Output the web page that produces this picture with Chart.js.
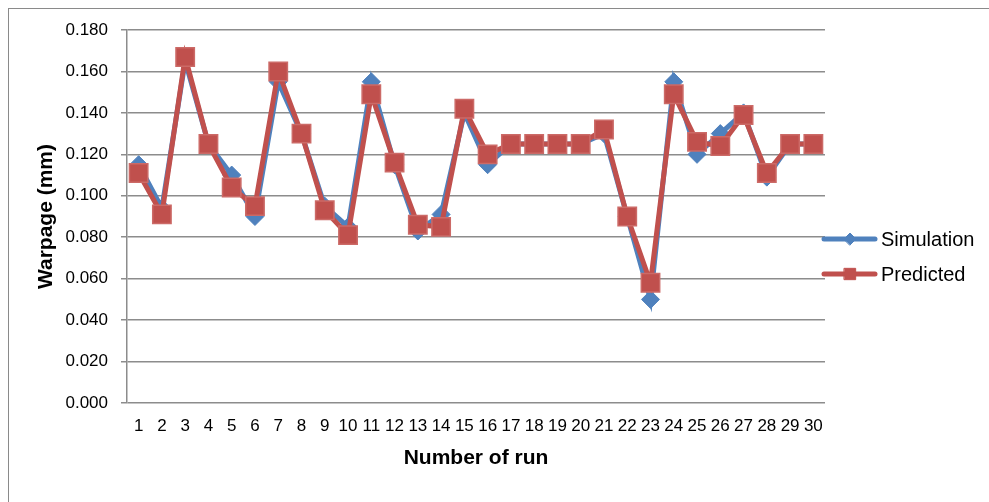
<!DOCTYPE html>
<html>
<head>
<meta charset="utf-8">
<script src="https://cdn.jsdelivr.net/npm/chart.js@4"></script>
<style>
  html, body { margin: 0; padding: 0; background: #fff; }
  #wrap { position: relative; width: 989px; height: 502px; }
</style>
</head>
<body>
<div id="wrap"><canvas id="warpChart" width="989" height="502"></canvas></div>
<script>
const runs = ['1','2','3','4','5','6','7','8','9','10','11','12','13','14','15','16','17','18','19','20','21','22','23','24','25','26','27','28','29','30'];
const simulation = [0.115, 0.094, 0.165, 0.125, 0.110, 0.090, 0.155, 0.130, 0.095, 0.085,
                    0.155, 0.115, 0.083, 0.091, 0.140, 0.115, 0.125, 0.125, 0.125, 0.125,
                    0.130, 0.090, 0.050, 0.155, 0.120, 0.130, 0.140, 0.109, 0.125, 0.125];
const predicted = [0.111, 0.091, 0.167, 0.125, 0.104, 0.095, 0.160, 0.130, 0.093, 0.081,
                   0.149, 0.116, 0.086, 0.085, 0.142, 0.120, 0.125, 0.125, 0.125, 0.125,
                   0.132, 0.090, 0.058, 0.149, 0.126, 0.124, 0.139, 0.111, 0.125, 0.125];
const yTicks = [0, 0.02, 0.04, 0.06, 0.08, 0.1, 0.12, 0.14, 0.16, 0.18];

const BLUE = '#4F81BD';
const RED = '#C0504D';
const GRID = '#8c8c8c';
const TXT = '#000';
const FONT = '"Liberation Sans", Arial, sans-serif';

// frame around the chart + the line/marker legend on the right
const extras = {
    id: 'extras',
    beforeDraw(chart) {
        const ctx = chart.ctx;
        ctx.save();
        ctx.strokeStyle = '#8a8a8a';
        ctx.lineWidth = 1;
        ctx.strokeRect(8.5, 8.5, 1100, 600);
        ctx.restore();
    },
    afterDraw(chart) {
        const ctx = chart.ctx;
        const rows = [239, 274];
        const sizes = [6, 8];
        chart.data.datasets.forEach((ds, i) => {
            const y = rows[i];
            ctx.save();
            ctx.strokeStyle = ds.borderColor;
            ctx.lineWidth = ds.borderWidth;
            ctx.lineCap = 'round';
            ctx.beginPath();
            ctx.moveTo(824, y);
            ctx.lineTo(875, y);
            ctx.stroke();
            ctx.fillStyle = ds.pointBackgroundColor;
            ctx.strokeStyle = ds.pointBackgroundColor;
            ctx.lineWidth = 1;
            Chart.helpers.drawPoint(ctx, { pointStyle: ds.pointStyle, radius: sizes[i], borderWidth: 1 }, 850, y);
            ctx.fillStyle = TXT;
            ctx.font = '20px ' + FONT;
            ctx.textBaseline = 'middle';
            ctx.fillText(ds.label, 881, y + 1);
            ctx.restore();
        });
    }
};

new Chart(document.getElementById('warpChart').getContext('2d'), {
    type: 'line',
    data: {
        labels: runs,
        datasets: [{
            label: 'Simulation',
            data: simulation,
            order: 2,
            borderColor: BLUE,
            borderWidth: 5,
            pointStyle: 'rectRot',
            pointRadius: 9,
            pointBackgroundColor: BLUE,
            pointBorderColor: BLUE,
            pointBorderWidth: 1,
            tension: 0
        }, {
            label: 'Predicted',
            data: predicted,
            order: 1,
            borderColor: RED,
            borderWidth: 5,
            pointStyle: 'rect',
            pointRadius: 13,
            pointBackgroundColor: RED,
            pointBorderColor: '#cc6a67',
            pointBorderWidth: 1.5,
            tension: 0
        }]
    },
    options: {
        responsive: false,
        animation: false,
        layout: { padding: { left: 30, top: 30, right: 164, bottom: 27 } },
        plugins: { legend: { display: false }, tooltip: { enabled: false } },
        scales: {
            x: {
                offset: true,
                grid: { display: false },
                border: { display: false },
                ticks: { color: TXT, font: { family: FONT, size: 17 }, maxRotation: 0, autoSkip: false, padding: 5 },
                title: { display: true, text: 'Number of run', color: TXT, font: { family: FONT, size: 21, weight: 'bold' } },
                afterFit: s => { s.height = 72; }
            },
            y: {
                min: 0,
                max: 0.18,
                afterBuildTicks: s => { s.ticks = yTicks.map(v => ({ value: v })); },
                grid: { color: GRID, lineWidth: 1.5, tickLength: 6 },
                border: { display: true, color: GRID, width: 1.5 },
                ticks: { color: TXT, font: { family: FONT, size: 17 }, padding: 13, callback: v => v.toFixed(3) },
                title: { display: true, text: 'Warpage (mm)', color: TXT, font: { family: FONT, size: 21, weight: 'bold' } },
                afterFit: s => { s.width = 97; }
            }
        }
    },
    plugins: [extras]
});
</script>
</body>
</html>
